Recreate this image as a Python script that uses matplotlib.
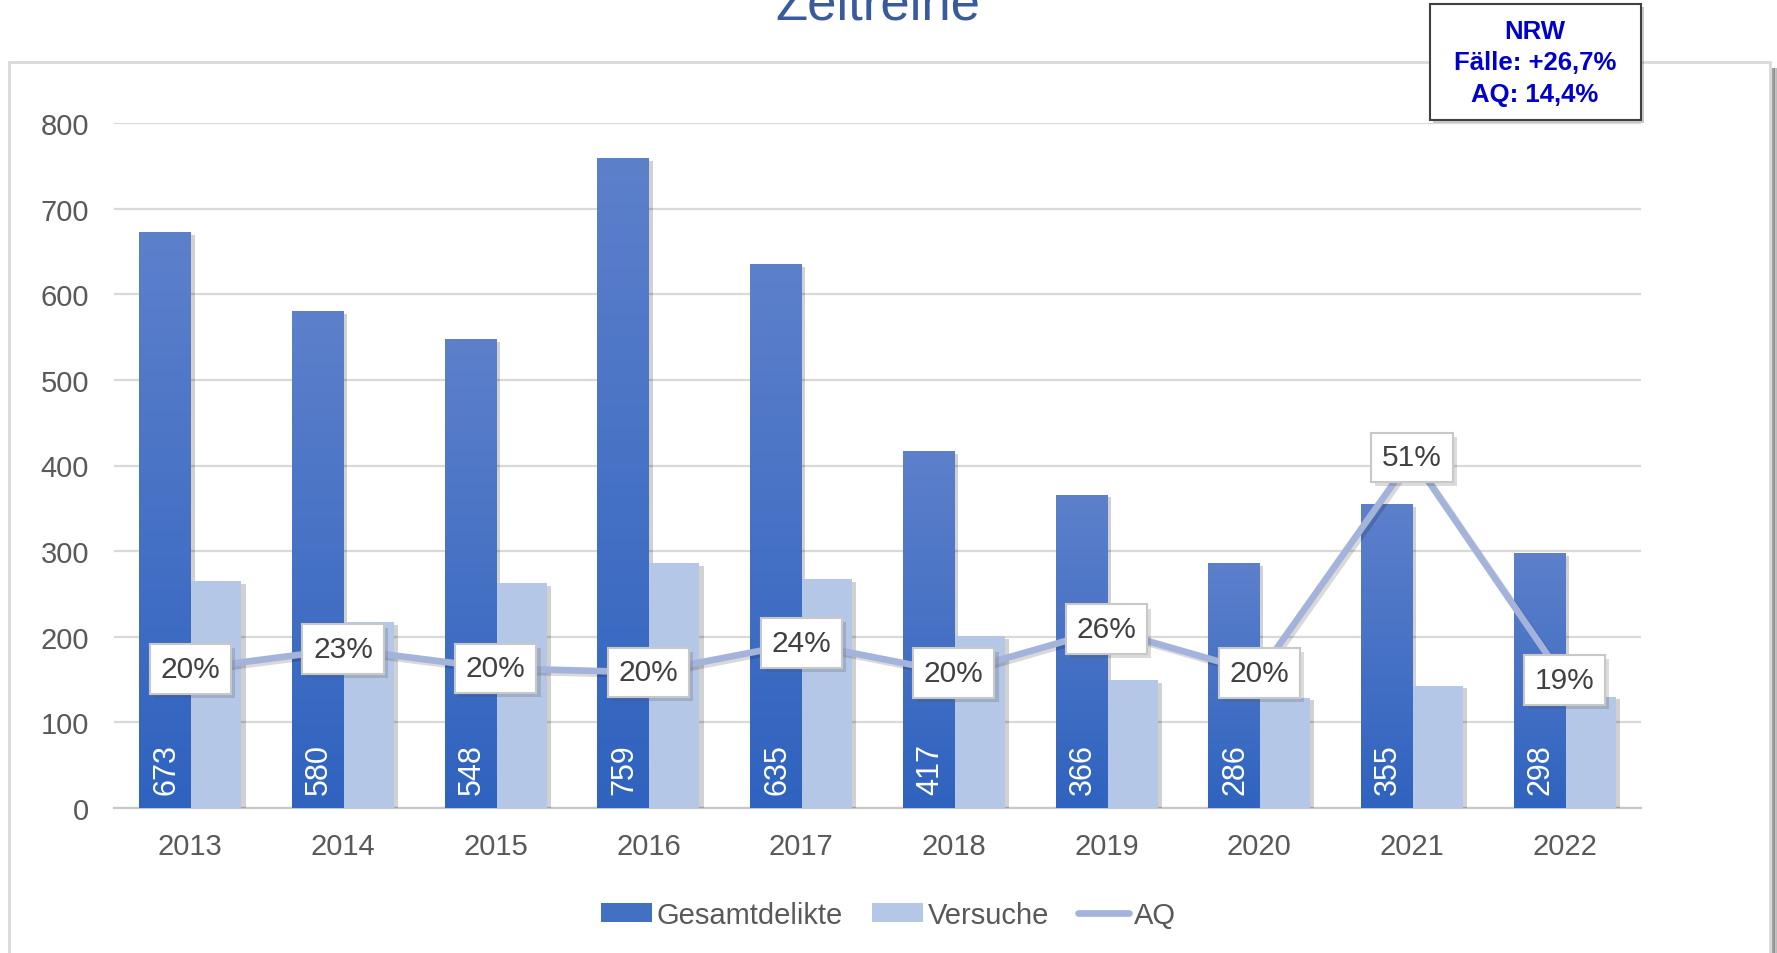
import numpy as np
import matplotlib
matplotlib.use("Agg")
import matplotlib.pyplot as plt
from matplotlib.patches import Patch, FancyBboxPatch
from matplotlib.lines import Line2D
import matplotlib.patheffects as pe

plt.rcParams['font.family'] = ['Liberation Sans', 'DejaVu Sans']

# data
years = ['2013', '2014', '2015', '2016', '2017', '2018', '2019', '2020', '2021', '2022']
gesamt = [673, 580, 548, 759, 635, 417, 366, 286, 355, 298]
versuche = [265, 217, 263, 286, 267, 201, 149, 129, 143, 130]
aq = [0.203, 0.232, 0.204, 0.198, 0.241, 0.197, 0.261, 0.197, 0.512, 0.187]
box_lines = ['NRW', 'Fälle: +26,7%', 'AQ: 14,4%']

dark_top = np.array([0x5D, 0x80, 0xCB]) / 255
dark_bot = np.array([0x2F, 0x63, 0xBF]) / 255
light = '#B4C7E7'
line_col = '#A3B3DB'
txt_col = '#595959'

W, H = 1777, 954
fig = plt.figure(figsize=(W / 100, H / 100), dpi=100)

# outer chart frame (behind the axes)
frame = FancyBboxPatch((9 / W, -0.02), 1761 / W, 1 - 63 / H + 0.02,
                       boxstyle='square,pad=0', transform=fig.transFigure,
                       facecolor='white', edgecolor='#D9D9D9', linewidth=2, zorder=-2)
fig.patches.append(frame)
for dx, a in [(3, 0.55), (5, 0.3), (7, 0.12)]:
    fig.lines.append(Line2D([(1770 + dx) / W] * 2, [0, 1 - 70 / H], transform=fig.transFigure,
                            color='#555555', alpha=a, linewidth=2.2, zorder=-1))

ax = fig.add_axes([114 / W, 1 - 809 / H, 1527 / W, 685 / H])
ax.set_facecolor('none')
x = np.arange(len(years))
bw = 0.334

shadow = [pe.SimplePatchShadow(offset=(3, -2), shadow_rgbFace='#000000', alpha=0.18), pe.Normal()]

grad = np.linspace(0, 1, 256)[:, None, None]
grad_img = dark_bot + (dark_top - dark_bot) * grad

for i in range(len(years)):
    b = ax.bar(x[i] - bw / 2, gesamt[i], bw, color=dark_bot, zorder=3)[0]
    b.set_path_effects(shadow)
    im = ax.imshow(grad_img, extent=[x[i] - bw, x[i], 0, gesamt[i]], origin='lower',
                   aspect='auto', zorder=3.1)
    im.set_clip_path(b)
    b2 = ax.bar(x[i] + bw / 2, versuche[i], bw, color=light, zorder=3)[0]
    b2.set_path_effects(shadow)
    ax.text(x[i] - bw / 2 + 0.01, 16, str(gesamt[i]), rotation=90, ha='center', va='bottom',
            color='white', fontsize=22, zorder=4)

ax.set_xlim(-0.5, len(years) - 0.5)
ax.set_ylim(0, 800)
ax.set_yticks(range(0, 801, 100))
ax.set_xticks(x)
ax.set_xticklabels(years)
ax.grid(axis='y', color='#D9D9D9', linewidth=1.6, zorder=0)
ax.set_axisbelow(True)
for s in ['top', 'right', 'left']:
    ax.spines[s].set_visible(False)
ax.spines['bottom'].set_color('#C8C8C8')
ax.spines['bottom'].set_linewidth(1.6)
ax.tick_params(axis='both', length=0, labelsize=21, labelcolor=txt_col)
ax.tick_params(axis='y', pad=18)
ax.tick_params(axis='x', pad=17)

ax2 = ax.twinx()
ax2.set_ylim(0, 1)
ax2.axis('off')
ax2.plot(x, aq, color=line_col, linewidth=4.8, solid_capstyle='round', zorder=5,
         path_effects=[pe.SimpleLineShadow(offset=(2, -2), alpha=0.15), pe.Normal()])
for i, v in enumerate(aq):
    t = ax2.text(x[i], v, f'{round(v * 100)}%', ha='center', va='center', fontsize=21.5,
                 color='#404040', zorder=6,
                 bbox=dict(boxstyle='square,pad=0.36', facecolor='white', edgecolor='#C8C8C8',
                           linewidth=1.5))
    t.get_bbox_patch().set_path_effects(
        [pe.SimplePatchShadow(offset=(3, -3), alpha=0.2), pe.Normal()])

handles = [Patch(facecolor='#4270C3', edgecolor='none', label='Gesamtdelikte'),
           Patch(facecolor=light, edgecolor='none', label='Versuche'),
           Line2D([0], [0], color=line_col, linewidth=4.8, solid_capstyle='round', label='AQ')]
leg = fig.legend(handles=handles, loc='center', bbox_to_anchor=(0.5, 1 - 916 / H), ncol=3,
                 frameon=False, fontsize=21, handlelength=1.75, handleheight=0.6,
                 handletextpad=0.15, columnspacing=1.0)
for t in leg.get_texts():
    t.set_color(txt_col)

# title, cut off at the top edge as in the original
fig.text(878 / W, 1 - 19 / H, 'Zeitreihe', ha='center', va='baseline', fontsize=38,
         color='#3A5A9E')

# NRW info box
box = FancyBboxPatch((1430 / W, 1 - 121 / H), 211 / W, 116 / H, boxstyle='square,pad=0',
                     transform=fig.transFigure, facecolor='white', edgecolor='#404040',
                     linewidth=1.5, zorder=10,
                     path_effects=[pe.SimplePatchShadow(offset=(2, -2), alpha=0.3), pe.Normal()])
fig.patches.append(box)
for k, s in enumerate(box_lines):
    fig.text(1535 / W, 1 - (32 + 31.5 * k) / H, s, ha='center', va='center', fontsize=18.5,
             fontweight='bold', color='#0000CC', zorder=11)

fig.savefig('out.png', dpi=100)
